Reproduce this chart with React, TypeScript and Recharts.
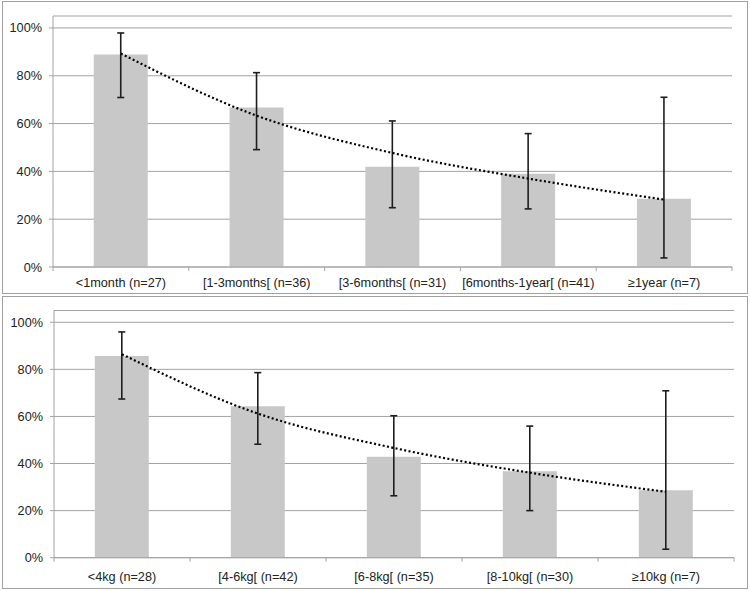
import React from 'react';
import { ComposedChart, Bar, Line, XAxis, YAxis, CartesianGrid, ErrorBar } from 'recharts';

const ageCategories = ['<1month (n=27)', '[1-3months[ (n=36)', '[3-6months[ (n=31)', '[6months-1year[ (n=41)', '≥1year (n=7)'];
const ageRates = [0.889, 0.667, 0.419, 0.39, 0.286];
const ageCiLow = [0.709, 0.491, 0.248, 0.243, 0.038];
const ageCiHigh = [0.979, 0.813, 0.611, 0.558, 0.71];
const ageTrend = [0.893, 0.633, 0.477, 0.37, 0.282];

const weightCategories = ['<4kg (n=28)', '[4-6kg[ (n=42)', '[6-8kg[ (n=35)', '[8-10kg[ (n=30)', '≥10kg (n=7)'];
const weightRates = [0.857, 0.643, 0.429, 0.367, 0.286];
const weightCiLow = [0.674, 0.482, 0.263, 0.2, 0.036];
const weightCiHigh = [0.959, 0.786, 0.603, 0.559, 0.709];
const weightTrend = [0.864, 0.612, 0.466, 0.361, 0.28];

const yTicks = [0, 0.2, 0.4, 0.6, 0.8, 1];

const GRID = '#a3a3a3';
const TEXT = '#222222';
const BAR = '#c8c8c8';
const FONT = "'Liberation Sans', Arial, sans-serif";
const FS = 12.7;

function buildData(cats: string[], rates: number[], lo: number[], hi: number[], trend: number[]) {
  return cats.map((name, i) => ({
    name,
    rate: rates[i],
    err: [rates[i] - lo[i], hi[i] - rates[i]],
    trend: trend[i],
  }));
}

const ageData = buildData(ageCategories, ageRates, ageCiLow, ageCiHigh, ageTrend);
const weightData = buildData(weightCategories, weightRates, weightCiLow, weightCiHigh, weightTrend);

type PanelProps = {
  data: any[];
  width: number;
  height: number;
  top: number;
  right: number;
  yAxisWidth: number;
  xAxisHeight: number;
  labelDy: number;
};

function Panel({ data, width, height, top, right, yAxisWidth, xAxisHeight, labelDy }: PanelProps) {
  const plotWidth = width - yAxisWidth - right;
  const band = plotWidth / data.length;
  const half = band / 2;
  const count = data.length;
  const renderTick = (props: any) => {
    const { x, y, payload, index } = props;
    return (
      <g>
        <line x1={x - half} x2={x - half} y1={y} y2={y + 4} stroke={GRID} strokeWidth={1} />
        {index === count - 1 ? (
          <line x1={x + half} x2={x + half} y1={y} y2={y + 4} stroke={GRID} strokeWidth={1} />
        ) : null}
        <text x={x} y={y + labelDy} textAnchor="middle" fill={TEXT} fontSize={FS} fontFamily={FONT}>
          {payload.value}
        </text>
      </g>
    );
  };
  return (
    <ComposedChart
      width={width}
      height={height}
      data={data}
      margin={{ top, right, bottom: 0, left: 0 }}
      barCategoryGap="30%"
    >
      <CartesianGrid vertical={false} stroke={GRID} strokeWidth={1} />
      <XAxis
        dataKey="name"
        height={xAxisHeight}
        interval={0}
        tickLine={false}
        tickSize={0}
        tickMargin={0}
        axisLine={{ stroke: GRID, strokeWidth: 1 }}
        tick={renderTick}
      />
      <YAxis
        type="number"
        domain={[0, 1.05]}
        ticks={yTicks}
        width={yAxisWidth}
        tickSize={4}
        tickMargin={7}
        axisLine={{ stroke: GRID, strokeWidth: 1 }}
        tickLine={{ stroke: GRID, strokeWidth: 1 }}
        tick={{ fill: TEXT, fontSize: FS, fontFamily: FONT }}
        tickFormatter={(v: number) => `${Math.round(v * 100)}%`}
      />
      <Bar dataKey="rate" fill={BAR} isAnimationActive={false}>
        <ErrorBar dataKey="err" direction="y" width={3.5} stroke="#1e1e1e" strokeWidth={1.6} isAnimationActive={false} />
      </Bar>
      <Line
        type="monotone"
        dataKey="trend"
        stroke="#000000"
        strokeWidth={2.2}
        strokeDasharray="2 2.4"
        dot={false}
        activeDot={false}
        isAnimationActive={false}
      />
    </ComposedChart>
  );
}

export default function App() {
  return (
    <div style={{ position: 'absolute', left: 0, top: 0, width: 750, height: 591, background: '#ffffff' }}>
      <div
        style={{
          position: 'absolute',
          left: 2,
          top: 1,
          width: 746,
          height: 293,
          border: '1px solid #a0a0a0',
          boxSizing: 'border-box',
        }}
      />
      <div
        style={{
          position: 'absolute',
          left: 2,
          top: 296,
          width: 746,
          height: 293,
          border: '1px solid #a0a0a0',
          boxSizing: 'border-box',
        }}
      />
      <div style={{ position: 'absolute', left: 0, top: 0 }}>
        <Panel data={ageData} width={750} height={296} top={16} right={18} yAxisWidth={53} xAxisHeight={29} labelDy={20} />
      </div>
      <div style={{ position: 'absolute', left: 0, top: 296 }}>
        <Panel data={weightData} width={750} height={294} top={14.5} right={16} yAxisWidth={54} xAxisHeight={32.3} labelDy={23.5} />
      </div>
    </div>
  );
}
